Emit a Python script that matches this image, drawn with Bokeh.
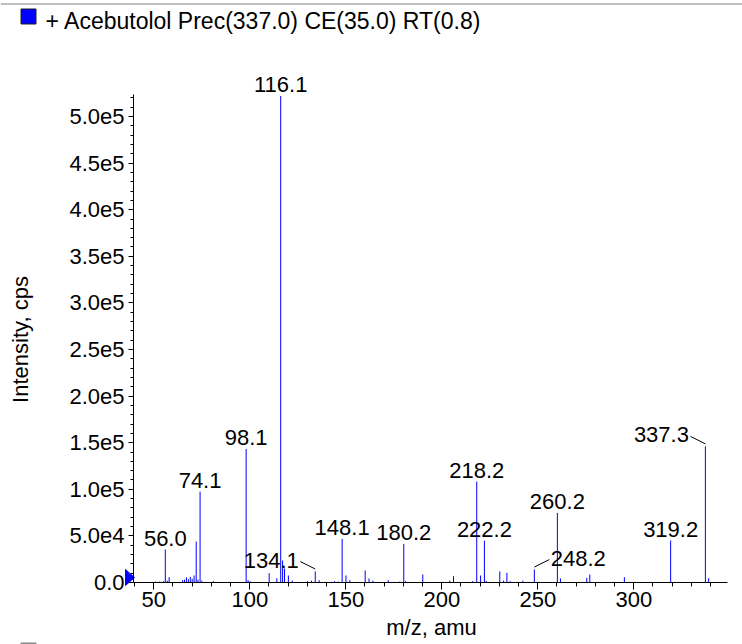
import math
from bokeh.plotting import figure
from bokeh.models import (Range1d, SingleIntervalTicker, CustomJSTickFormatter,
                          LabelSet, Label, ColumnDataSource)
from bokeh.core.properties import value
from bokeh.embed import file_html
from bokeh.resources import INLINE

# ---------------- data ----------------
title_text = "+ Acebutolol Prec(337.0) CE(35.0) RT(0.8)"
x_label = "m/z, amu"
y_label = "Intensity, cps"

peak_mz = [51.0, 53.0, 55.0, 56.0, 57.0, 58.0, 65.0, 66.0, 67.0, 68.0, 69.0, 70.0,
           71.0, 72.1, 73.0, 74.1, 75.0, 81.0, 98.1, 99.1, 100.1, 110.1, 114.1,
           116.1, 117.1, 118.1, 120.1, 122.1, 130.1, 132.1, 134.1, 136.1, 144.1,
           146.1, 148.1, 150.1, 152.1, 160.1, 162.1, 164.1, 172.1, 178.1, 180.2,
           181.2, 190.1, 204.1, 206.1, 216.1, 218.2, 220.2, 222.2, 223.2, 230.2,
           232.2, 233.9, 235.6, 242.2, 248.2, 260.2, 261.8, 275.5, 277.1, 295.1,
           319.2, 337.3, 339.0]
peak_intensity = [1000, 1000, 1500, 35400, 2000, 5700, 2500, 3000, 5500, 3500, 6000, 4000,
                  7500, 43900, 3000, 97500, 2000, 1500, 143300, 2500, 1500, 10000, 4500,
                  522000, 23600, 15000, 7500, 2000, 1500, 2000, 11800, 2500, 1500,
                  1000, 46800, 7500, 2500, 12900, 4300, 2000, 2500, 1000, 41500,
                  1500, 8600, 2000, 6800, 1500, 108300, 7500, 45000, 1500, 11800,
                  2000, 10400, 1500, 2000, 13900, 74700, 4300, 5000, 8600, 5700,
                  45000, 146100, 4600]

label_mz = [56.0, 74.1, 98.1, 116.1, 134.1, 148.1, 180.2, 218.2, 222.2, 248.2,
            260.2, 319.2, 337.3]
label_text = ["56.0", "74.1", "98.1", "116.1", "134.1", "148.1", "180.2", "218.2",
              "222.2", "248.2", "260.2", "319.2", "337.3"]

# ---------------- layout / style ----------------
FONT = "Liberation Sans"
W, H = 742, 644
# the plotting frame covers the whole canvas; axes are drawn at fixed locations
XS, XE = -29.84, 356.62
YS, YE = -66524.0, 624464.0
AX_X0, AX_X1 = 39.43, 348.8      # extent of the x axis line
AX_Y1 = 523600.0                 # top of the y axis line
BLUE = "#0000ff"
LEADER_SIDE = {134.1: -1, 248.2: 1, 337.3: -1}   # labels moved aside with a leader line
LABEL_LIFT = 11.5                # px between peak top and label centre

SX = W / (XE - XS)   # px per data unit
SY = H / (YE - YS)

def dx(px):   # canvas px -> data x
    return XS + px / SX

def dy(py):   # canvas px (from top) -> data y
    return YE - py / SY

p = figure(width=W, height=H, output_backend="svg", toolbar_location=None, tools="",
           x_range=Range1d(XS, XE), y_range=Range1d(YS, YE), title=None,
           min_border=0, min_border_left=0, min_border_right=0,
           min_border_top=0, min_border_bottom=0)
p.outline_line_color = None
p.xgrid.grid_line_color = None
p.ygrid.grid_line_color = None
p.background_fill_color = "white"
p.border_fill_color = "white"

# axes (library axes, placed at fixed data locations)
p.xaxis.fixed_location = 0
p.xaxis.bounds = (AX_X0, AX_X1)
p.yaxis.fixed_location = AX_X0
p.yaxis.bounds = (0, AX_Y1)
p.xaxis.ticker = SingleIntervalTicker(interval=50, num_minor_ticks=5)
p.yaxis.ticker = SingleIntervalTicker(interval=50000, num_minor_ticks=5)
p.yaxis.formatter = CustomJSTickFormatter(code="""
if (tick == 0) { return "0.0"; }
const e = Math.floor(Math.log10(Math.abs(tick)) + 1e-9);
const m = tick / Math.pow(10, e);
return m.toFixed(1) + "e" + e;
""")
for ax in (p.xaxis[0], p.yaxis[0]):
    ax.axis_line_color = "black"
    ax.major_tick_line_color = "black"
    ax.minor_tick_line_color = "black"
    ax.major_tick_in = 0
    ax.minor_tick_in = 0
    ax.major_label_text_font = FONT
    ax.major_label_text_font_size = "22px"
    ax.major_label_text_color = "black"
p.xaxis.major_tick_out = 7
p.xaxis.minor_tick_out = 4
p.xaxis.major_label_standoff = 3
p.yaxis.major_tick_out = 5
p.yaxis.minor_tick_out = 3
p.yaxis.major_label_standoff = 4

# peaks
src = ColumnDataSource(dict(mz=peak_mz, inten=peak_intensity))
p.segment(x0="mz", y0=0, x1="mz", y1="inten", source=src, line_color=BLUE, line_width=1)

# peak labels
lookup = dict(zip(peak_mz, peak_intensity))
lab_x = [m + LEADER_SIDE.get(m, 0) * 44 / SX for m in label_mz]
lab_y = [lookup[m] + LABEL_LIFT / SY for m in label_mz]
lab_src = ColumnDataSource(dict(x=lab_x, y=lab_y, text=label_text))
p.add_layout(LabelSet(x="x", y="y", text="text", source=lab_src,
                      text_align="center", text_baseline="middle",
                      text_font=value(FONT), text_font_size=value("22px"),
                      text_color="black"))

# leader lines
lx0, ly0, lx1, ly1 = [], [], [], []
for m, s in LEADER_SIDE.items():
    top = lookup[m]
    lx0.append(m + s * 15 / SX); ly0.append(top + 10 / SY)
    lx1.append(m); ly1.append(top + 2.5 / SY)
p.segment(x0=lx0, y0=ly0, x1=lx1, y1=ly1, line_color="black", line_width=1)

# blue triangle marker at the zero level
p.patch(x=[dx(125), dx(125), dx(134)], y=[dy(569), dy(585), dy(577)],
        fill_color=BLUE, line_color=BLUE, line_width=1)

# header: rule, legend square and title
p.segment(x0=[dx(0)], y0=[dy(3.5)], x1=[dx(W)], y1=[dy(3.5)], line_color="#7f7f7f", line_width=1)
p.quad(left=[dx(20.5)], right=[dx(35.5)], top=[dy(8.5)], bottom=[dy(23.5)],
       fill_color=BLUE, line_color="#202020", line_width=1)
p.add_layout(Label(x=dx(45), y=dy(20), text=title_text, text_align="left",
                   text_baseline="middle", text_font=FONT, text_font_size="23px",
                   text_color="black"))
# second (cut-off) legend square at the bottom edge
p.quad(left=[dx(20.5)], right=[dx(35.5)], top=[dy(642.5)], bottom=[dy(650)],
       fill_color="#9a9a9a", line_color="#808080", line_width=1)

# axis titles
p.add_layout(Label(x=dx(20), y=dy(339), text=y_label, angle=math.pi / 2,
                   text_align="center", text_baseline="middle", text_font=FONT,
                   text_font_size="22px", text_color="black"))
p.add_layout(Label(x=dx(431), y=dy(627), text=x_label, text_align="center",
                   text_baseline="middle", text_font=FONT, text_font_size="22px",
                   text_color="black"))

open("out.html", "w").write(file_html(p, INLINE))
